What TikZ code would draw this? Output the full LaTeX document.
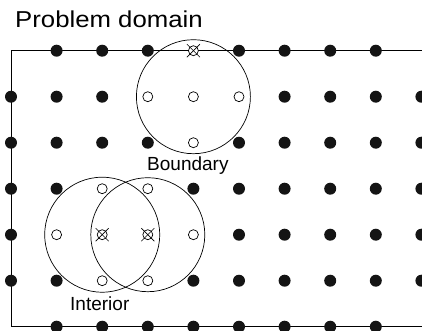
\documentclass[tikz,border=0pt]{standalone}
\usepackage{fontspec}
\setmainfont{Liberation Sans}
\begin{document}
\begin{tikzpicture}[x=1pt,y=-1pt,
  fdot/.style={circle,fill=black!92,inner sep=0pt,minimum size=12pt},
  odot/.style={circle,draw,fill=white,line width=0.7pt,inner sep=0pt,minimum size=10pt},
  frame/.style={line width=0.8pt},
  ring/.style={line width=0.7pt},
  xline/.style={line width=0.6pt},
  lbl/.style={inner sep=0pt,anchor=base west,font=\fontsize{19}{22}\selectfont},
  ttl/.style={inner sep=0pt,anchor=base west,font=\fontsize{23}{27}\selectfont}]
\useasboundingbox (0,0) rectangle (422,330);
\begin{scope}
\clip (0,0) rectangle (422,330);
% frame
\coordinate (tl) at (11,50.7);
\coordinate (tr) at (424,50.7);
\coordinate (bl) at (11,326.7);
\coordinate (br) at (424,326.7);
\draw[frame] (tr) -- (tl) -- (bl) -- (br);
% circles of influence
\node[ring,draw,circle,minimum size=114pt,inner sep=0pt] (cb) at (193.4,96.7) {};
\node[ring,draw,circle,minimum size=115pt,inner sep=0pt] (ci1) at (102.2,234.7) {};
\node[ring,draw,circle,minimum size=114pt,inner sep=0pt] (ci2) at (147.8,234.7) {};
% filled dots
\foreach \r/\c in {0/1,0/2,0/3,0/5,0/6,0/7,0/8,
  1/0,1/1,1/2,1/6,1/7,1/8,1/9,
  2/0,2/1,2/2,2/3,2/5,2/6,2/7,2/8,2/9,
  3/0,3/1,3/4,3/5,3/6,3/7,3/8,3/9,
  4/0,4/5,4/6,4/7,4/8,4/9,
  5/0,5/1,5/4,5/5,5/6,5/7,5/8,5/9,
  6/1,6/2,6/3,6/4,6/5,6/6,6/7,6/8}
  \node[fdot] (f-\r-\c) at ({11+45.6*\c},{50.7+46*\r}) {};
% open dots
\foreach \r/\c in {1/3,1/4,1/5,2/4,3/2,3/3,4/1,4/4,5/2,5/3}
  \node[odot] (o-\r-\c) at ({11+45.6*\c},{50.7+46*\r}) {};
% crossed dots
\foreach \r/\c in {0/4,4/2,4/3}{
  \node[odot] (x-\r-\c) at ({11+45.6*\c},{50.7+46*\r}) {};
  \draw[xline] (x-\r-\c.center) ++(-6.5,-6.5) -- ++(13,13);
  \draw[xline] (x-\r-\c.center) ++(6.5,-6.5) -- ++(-13,13);
}
\end{scope}
% labels
\node[ttl] (title) at (15,27) {\scalebox{1.12}[1]{Problem domain}};
\node[lbl] (boundary) at (147,170) {Boundary};
\node[lbl] (interior) at (70,310.7) {Interior};
\end{tikzpicture}
\end{document}
